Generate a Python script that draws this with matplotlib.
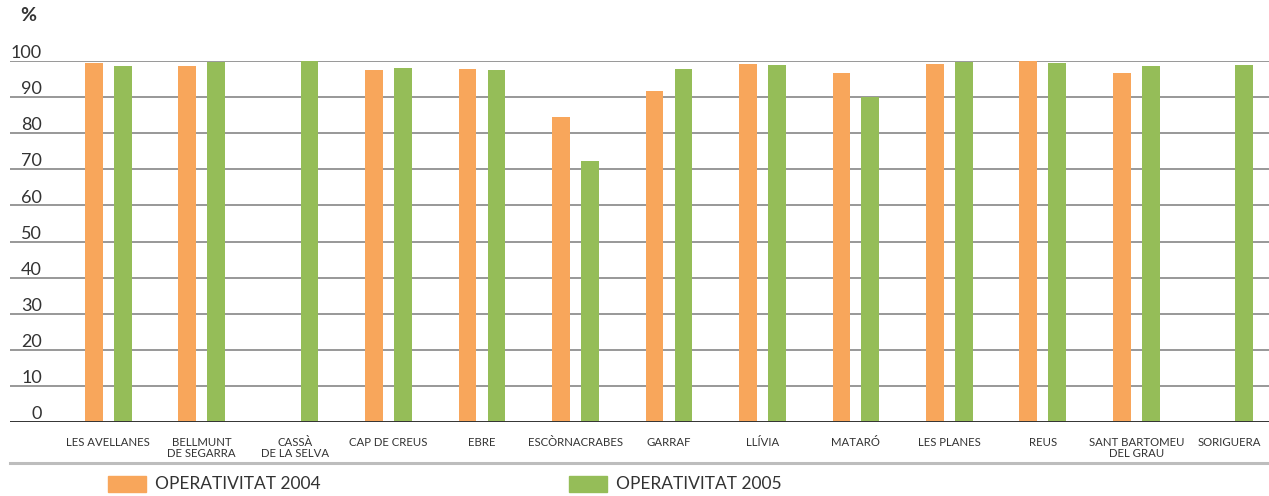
import matplotlib
matplotlib.use("Agg")
import matplotlib.pyplot as plt
import matplotlib.transforms as mtransforms
from matplotlib.lines import Line2D
from matplotlib.patches import Rectangle
import numpy as np

categories = ["LES AVELLANES", "BELLMUNT\nDE SEGARRA", "CASSÀ\nDE LA SELVA", "CAP DE CREUS",
              "EBRE", "ESCÒRNACRABES", "GARRAF", "LLÍVIA", "MATARÓ", "LES PLANES", "REUS",
              "SANT BARTOMEU\nDEL GRAU", "SORIGUERA"]
op2004 = [99.4, 98.6, None, 97.5, 97.8, 84.5, 91.7, 99.2, 96.7, 99.2, 100.0, 96.7, None]
op2005 = [98.6, 99.7, 100.0, 98.1, 97.5, 72.3, 97.8, 98.9, 90.0, 99.7, 99.4, 98.6, 98.9]
yticks = [0, 10, 20, 30, 40, 50, 60, 70, 80, 90, 100]
legend_labels = ["OPERATIVITAT 2004", "OPERATIVITAT 2005"]

ORANGE = "#F8A65B"
GREEN = "#95BD58"
TXT = "#333333"
plt.rcParams['font.family'] = ['Lato', 'DejaVu Sans']

W, H = 1269, 496
fig = plt.figure(figsize=(W / 100, H / 100), dpi=100)
ax = fig.add_axes([10 / W, 1 - 422 / H, 1259 / W, (422 - 61) / H])

x = np.arange(len(categories))
bw = 0.19
off = 0.155
v04 = [np.nan if v is None else v for v in op2004]
v05 = [np.nan if v is None else v for v in op2005]
ax.bar(x - off, v04, width=bw, color=ORANGE, zorder=3, label=legend_labels[0])
ax.bar(x + off, v05, width=bw, color=GREEN, zorder=3, label=legend_labels[1])

ax.set_xlim(-1.05, 12.42)
ax.set_ylim(0, 100)
for t in yticks[1:]:
    ax.axhline(t, color="#909090", lw=1.3, zorder=1)
ax.axhline(0, color="#333333", lw=1.4, zorder=4)

for s in ax.spines.values():
    s.set_visible(False)
ax.set_yticks([])
ax.set_xticks(x)
ax.set_xticklabels(categories, fontsize=8.2, color=TXT, linespacing=1.1, va='top')
ax.tick_params(axis='x', length=0, pad=10.5)

trans = mtransforms.blended_transform_factory(ax.transAxes, ax.transData)
for t in yticks:
    ax.text(0.0254, t + 0.8, str(t), transform=trans, ha='right', va='baseline',
            fontsize=13, color=TXT)

fig.text(20 / W, 1 - 21 / H, "%", fontsize=14, fontweight='bold', color=TXT, ha='left', va='baseline')

fig.add_artist(Line2D([10 / W, 1.0], [1 - 463 / H] * 2, color="#bdbdbd", lw=2.2, transform=fig.transFigure))

# legend
for px, col, lab in [(108, ORANGE, legend_labels[0]), (569, GREEN, legend_labels[1])]:
    fig.add_artist(Rectangle((px / W, 1 - 492 / H), 38 / W, 16 / H, color=col, transform=fig.transFigure))
    fig.text((px + 47) / W, 1 - 484 / H, lab, fontsize=12.5, color=TXT, ha='left', va='center')

fig.savefig("out.png", dpi=100)
